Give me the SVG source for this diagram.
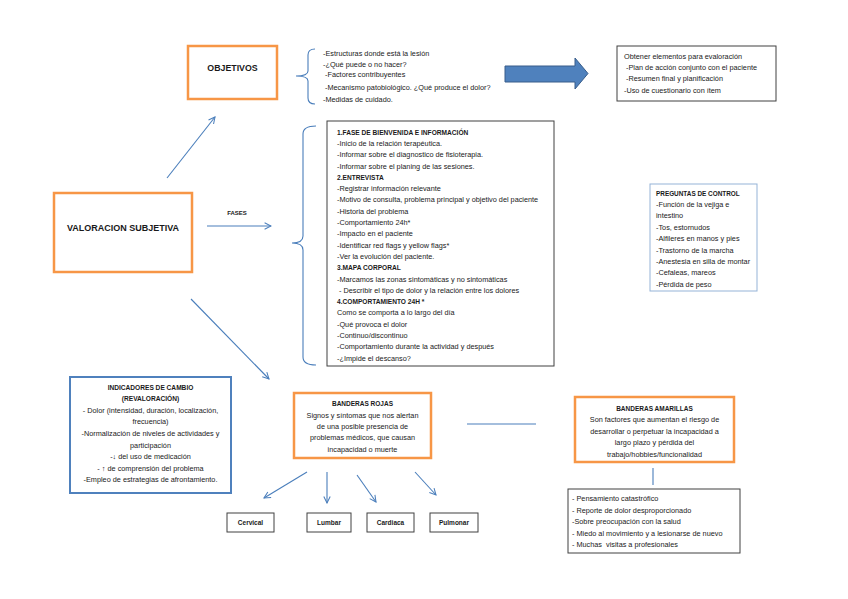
<svg xmlns="http://www.w3.org/2000/svg" width="848" height="599" viewBox="0 0 848 599">
<style>
text{font-family:"Liberation Sans",Arial,sans-serif;fill:#1a1a1a;font-size:7.3px;white-space:pre}
.b{font-weight:bold}
.c{text-anchor:middle}
.or{fill:#fff;stroke:#F79646;stroke-width:2.5}
.gr{fill:#fff;stroke:#404040;stroke-width:1}
.ln{fill:none;stroke:#4A7EBB;stroke-width:1.1}
</style>
<defs>
<marker id="ah" viewBox="0 0 10 10" refX="9" refY="5" markerWidth="8" markerHeight="8" markerUnits="userSpaceOnUse" orient="auto">
<path d="M1,1 L9,5 L1,9" fill="none" stroke="#4A7EBB" stroke-width="1.3"/>
</marker>
</defs>
<rect width="848" height="599" fill="#fff"/>

<g id="connectors">
<line class="ln" x1="167" y1="178" x2="215" y2="117" marker-end="url(#ah)"/>
<line class="ln" x1="207" y1="226" x2="271" y2="226" marker-end="url(#ah)"/>
<line class="ln" x1="191" y1="299" x2="269" y2="379" marker-end="url(#ah)"/>
<path class="ln" d="M315,49 Q308,49 308,55 L308,71 Q308,76 296,76 Q308,76 308,81 L308,98 Q308,104 315,104"/>
<path class="ln" d="M316,126 Q303,126 303,134 L303,236 Q303,243 292,243 Q303,243 303,250 L303,357 Q303,365 316,365"/>
<line class="ln" x1="467" y1="424" x2="536" y2="424"/>
<line class="ln" x1="653" y1="468" x2="653" y2="485"/>
<line class="ln" x1="307" y1="472" x2="264" y2="498" marker-end="url(#ah)"/>
<line class="ln" x1="327" y1="472" x2="327" y2="503" marker-end="url(#ah)"/>
<line class="ln" x1="357" y1="475" x2="376" y2="502" marker-end="url(#ah)"/>
<line class="ln" x1="415" y1="472" x2="436" y2="495" marker-end="url(#ah)"/>
<path d="M505,66 L575,66 L575,58 L588,73.5 L575,89 L575,82 L505,82 Z" fill="#4F81BD" stroke="#385D8A" stroke-width="1"/>
<text class="b" x="237" y="215" style="font-size:6px" text-anchor="middle">FASES</text>
</g>

<g id="valoracion">
<rect class="or" x="54" y="193" width="138" height="79"/>
<text class="b c" x="123" y="231" style="font-size:9px">VALORACION SUBJETIVA</text>
</g>

<g id="objetivos">
<rect class="or" x="188" y="46" width="89" height="53"/>
<text class="b c" x="232.5" y="71" style="font-size:8.8px">OBJETIVOS</text>
</g>

<g id="objetivos-lista">
<text x="323" y="56">-Estructuras donde está la lesión</text>
<text x="323" y="66.5">-¿Qué puede o no hacer?</text>
<text x="323" y="77.3" xml:space="preserve"> -Factores contribuyentes</text>
<text x="323" y="90" xml:space="preserve"> -Mecanismo patobiológico. ¿Qué produce el dolor?</text>
<text x="323" y="102">-Medidas de cuidado.</text>
</g>

<g id="evaluacion">
<rect class="gr" x="617" y="46" width="159" height="55"/>
<text x="624" y="58.5">Obtener elementos para evaloración</text>
<text x="624" y="70" xml:space="preserve"> -Plan de acción conjunto con el paciente</text>
<text x="624" y="81" xml:space="preserve"> -Resumen final y planificación</text>
<text x="624" y="92.5">-Uso de cuestionario con ítem</text>
</g>

<g id="fases">
<rect class="gr" x="327" y="121" width="227" height="245"/>
<text class="b" x="337" y="134.6" style="font-size:6.6px">1.FASE DE BIENVENIDA E INFORMACIÓN</text>
<text x="337" y="145.9">-Inicio de la relación terapéutica.</text>
<text x="337" y="157.2">-Informar sobre el diagnostico de fisioterapia.</text>
<text x="337" y="168.5">-Informar sobre el planing de las sesiones.</text>
<text class="b" x="337" y="179.8" style="font-size:6.6px">2.ENTREVISTA</text>
<text x="337" y="191.1">-Registrar información relevante</text>
<text x="337" y="202.4">-Motivo de consulta, problema principal y objetivo del paciente</text>
<text x="337" y="213.7">-Historia del problema</text>
<text x="337" y="225">-Comportamiento 24h*</text>
<text x="337" y="236.3">-Impacto en el paciente</text>
<text x="337" y="247.6">-Identificar red flags y yellow flags*</text>
<text x="337" y="258.9">-Ver la evolución del paciente.</text>
<text class="b" x="337" y="270.2" style="font-size:6.6px">3.MAPA CORPORAL</text>
<text x="337" y="281.5">-Marcamos las zonas sintomáticas y no sintomáticas</text>
<text x="337" y="292.8" xml:space="preserve"> - Describir el tipo de dolor y la relación entre los dolores</text>
<text class="b" x="337" y="304.1" style="font-size:6.6px">4.COMPORTAMIENTO 24H *</text>
<text x="337" y="315.4">Como se comporta a lo largo del día</text>
<text x="337" y="326.7">-Qué provoca el dolor</text>
<text x="337" y="338">-Continuo/discontinuo</text>
<text x="337" y="349.3">-Comportamiento durante la actividad y después</text>
<text x="337" y="360.6">-¿Impide el descanso?</text>
</g>

<g id="preguntas">
<rect x="650" y="184" width="107" height="107" fill="#fff" stroke="#95B3D7" stroke-width="1"/>
<text class="b" x="656" y="195.6" style="font-size:6.4px">PREGUNTAS DE CONTROL</text>
<text x="656" y="207">-Función de la vejiga e</text>
<text x="656" y="218.4">intestino</text>
<text x="656" y="229.8">-Tos, estornudos</text>
<text x="656" y="241.2">-Alfileres en manos y pies</text>
<text x="656" y="252.6">-Trastorno de la marcha</text>
<text x="656" y="264">-Anestesia en silla de montar</text>
<text x="656" y="275.4">-Cefaleas, mareos</text>
<text x="656" y="286.8">-Pérdida de peso</text>
</g>

<g id="indicadores">
<rect x="70" y="377" width="161" height="116" fill="#fff" stroke="#4F81BD" stroke-width="2"/>
<text class="b c" x="150.5" y="389.6" style="font-size:6.6px">INDICADORES DE CAMBIO</text>
<text class="b c" x="150.5" y="401.2" style="font-size:6.6px">(REVALORACIÓN)</text>
<text class="c" x="150.5" y="412.8">- Dolor (intensidad, duración, localización,</text>
<text class="c" x="150.5" y="424.4">frecuencia)</text>
<text class="c" x="150.5" y="436">-Normalización de niveles de actividades y</text>
<text class="c" x="150.5" y="447.6">participación</text>
<text class="c" x="150.5" y="459.2">-↓ del uso de medicación</text>
<text class="c" x="150.5" y="470.8">- ↑ de comprensión del problema</text>
<text class="c" x="150.5" y="482.4">-Empleo de estrategias de afrontamiento.</text>
</g>

<g id="banderas-rojas">
<rect class="or" x="294" y="393" width="137" height="65"/>
<text class="b c" x="362.5" y="406" style="font-size:6.5px">BANDERAS ROJAS</text>
<text class="c" x="362.5" y="417.5">Signos y síntomas que nos alertan</text>
<text class="c" x="362.5" y="428.9">de una posible presencia de</text>
<text class="c" x="362.5" y="440.3">problemas médicos, que causan</text>
<text class="c" x="362.5" y="451.7">incapacidad o muerte</text>
</g>

<g id="banderas-amarillas">
<rect class="or" x="575" y="397" width="159" height="65"/>
<text class="b c" x="654.5" y="410.6" style="font-size:6.5px">BANDERAS AMARILLAS</text>
<text class="c" x="654.5" y="422">Son factores que aumentan el riesgo de</text>
<text class="c" x="654.5" y="433.5">desarrollar o perpetuar la incapacidad a</text>
<text class="c" x="654.5" y="445">largo plazo y pérdida del</text>
<text class="c" x="654.5" y="456.5">trabajo/hobbies/funcionalidad</text>
</g>

<g id="amarillas-lista">
<rect class="gr" x="568" y="489" width="172" height="64"/>
<text x="572" y="501">- Pensamiento catastrófico</text>
<text x="572" y="512.6">- Reporte de dolor desproporcionado</text>
<text x="572" y="524.2">-Sobre preocupación con la salud</text>
<text x="572" y="535.8">- Miedo al movimiento y a lesionarse de nuevo</text>
<text x="572" y="547.4" xml:space="preserve">- Muchas  visitas a profesionales</text>
</g>

<g id="cervical">
<rect class="gr" x="227" y="513" width="47" height="19"/>
<text class="b c" x="250.5" y="525" style="font-size:6.5px">Cervical</text>
</g>
<g id="lumbar">
<rect class="gr" x="307" y="513" width="44" height="19"/>
<text class="b c" x="329" y="525" style="font-size:6.5px">Lumbar</text>
</g>
<g id="cardiaca">
<rect class="gr" x="367" y="513" width="47" height="19"/>
<text class="b c" x="390.5" y="525" style="font-size:6.5px">Cardiaca</text>
</g>
<g id="pulmonar">
<rect class="gr" x="430" y="513" width="48" height="19"/>
<text class="b c" x="454" y="525" style="font-size:6.5px">Pulmonar</text>
</g>
</svg>
